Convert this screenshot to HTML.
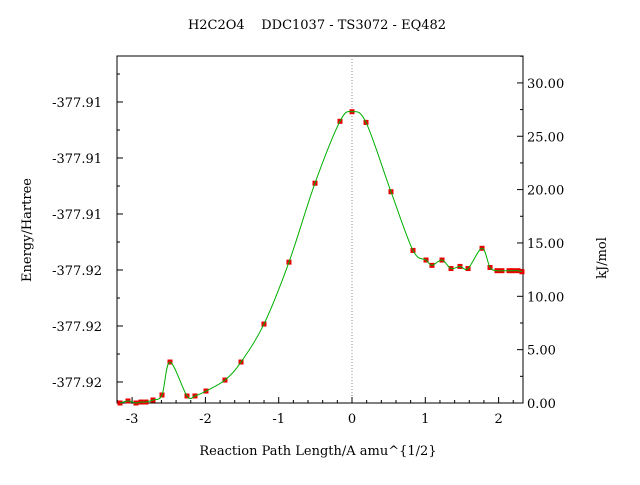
<!DOCTYPE html>
<html><head><meta charset="utf-8"><style>
body{margin:0;background:#fff}
svg text{font-family:"DejaVu Serif","Liberation Serif",serif;font-size:13px;fill:#000}
</style></head><body>
<svg id="chart" width="640" height="480" viewBox="0 0 640 480">
<text x="317" y="29" text-anchor="middle" xml:space="preserve">H2C2O4    DDC1037 - TS3072 - EQ482</text>
<text x="318" y="455" text-anchor="middle">Reaction Path Length/A amu^{1/2}</text>
<text transform="translate(31,230) rotate(-90)" text-anchor="middle">Energy/Hartree</text>
<text transform="translate(606,258) rotate(-90)" text-anchor="middle">kJ/mol</text>
<g id="axes"></g>
<g id="marks"></g>
</svg>
<script>
const xs=[-3.165,-3.056,-2.947,-2.879,-2.810,-2.715,-2.592,-2.483,-2.251,-2.142,-1.992,-1.733,-1.514,-1.201,-0.860,-0.505,-0.164,0,0.191,0.532,0.832,1.010,1.091,1.228,1.351,1.473,1.583,1.774,1.883,1.978,2.046,2.142,2.196,2.265,2.319];
const energies=[0,0.19,0,0.09,0.09,0.28,0.75,3.84,0.66,0.66,1.12,2.15,3.84,7.4,13.2,20.6,26.4,27.3,26.3,19.8,14.3,13.4,12.9,13.4,12.6,12.8,12.6,14.5,12.7,12.4,12.4,12.4,12.4,12.4,12.3];
const xTicks=[-3,-2,-1,0,1,2];
const xTickLabels=["-3","-2","-1","0","1","2"];
const rightTicks=[0,5,10,15,20,25,30];
const rightTickLabels=["0.00","5.00","10.00","15.00","20.00","25.00","30.00"];
const leftTickLabels=["-377.92","-377.92","-377.92","-377.91","-377.91","-377.91"];
const L=117,R=523,T=56,B=403;
const sx=v=>352+v*73.3;
const sy=v=>B-v*10.67;
const NS="http://www.w3.org/2000/svg";
const axes=document.getElementById('axes'),marks=document.getElementById('marks');
function mk(tag,attrs,parent){const e=document.createElementNS(NS,tag);for(const k in attrs)e.setAttribute(k,attrs[k]);parent.appendChild(e);return e;}
const frame=mk('rect',{x:L,y:T,width:R-L,height:B-T,fill:'none',stroke:'#000','stroke-width':1},axes);


const zl=mk('line',{x1:sx(0),x2:sx(0),y1:T,y2:B,stroke:'#888','stroke-dasharray':'1,2'},axes);


for(let v=-3.2;v<=2.33;v+=0.2){const x=sx(Math.round(v*10)/10);const major=Math.abs(Math.round(v)-v)<0.01;mk('line',{x1:x,x2:x,y1:B,y2:B-(major?6:3),stroke:'#000'},axes);}
xTicks.forEach((v,i)=>{const t=mk('text',{x:sx(v),y:B+20,'text-anchor':'middle'},axes);t.textContent=xTickLabels[i];

});
for(let v=0;v<=32.5;v+=2.5){const y=sy(v);const major=v%5===0;mk('line',{x1:R,x2:R-(major?6:3),y1:y,y2:y,stroke:'#000'},axes);}
rightTicks.forEach((v,i)=>{const t=mk('text',{x:R+4,y:sy(v)+5},axes);t.textContent=rightTickLabels[i];

});
leftTickLabels.forEach((s,i)=>{const y=382-i*56;mk('line',{x1:L,x2:L+6,y1:y,y2:y,stroke:'#000'},axes);mk('line',{x1:L,x2:L+3,y1:y-28,y2:y-28,stroke:'#000'},axes);
const t=mk('text',{x:L-15,y:y+5,'text-anchor':'end'},axes);t.textContent=s;

});
const P=xs.map((v,i)=>[sx(v),sy(energies[i])]);
let d='M'+P[0][0]+','+P[0][1];
for(let i=0;i<P.length-1;i++){const p0=P[i-1]||P[i],p1=P[i],p2=P[i+1],p3=P[i+2]||p2;
d+=` C${p1[0]+(p2[0]-p0[0])/6},${p1[1]+(p2[1]-p0[1])/6} ${p2[0]-(p3[0]-p1[0])/6},${p2[1]-(p3[1]-p1[1])/6} ${p2[0]},${p2[1]}`;}
P.forEach(p=>{const r=mk('rect',{x:p[0]-2.5,y:p[1]-2.5,width:5,height:5,fill:'#e80000'},marks);

});
const line=mk('path',{d:d,fill:'none',stroke:'#00b000','stroke-width':1},marks);


</script>
</body></html>
